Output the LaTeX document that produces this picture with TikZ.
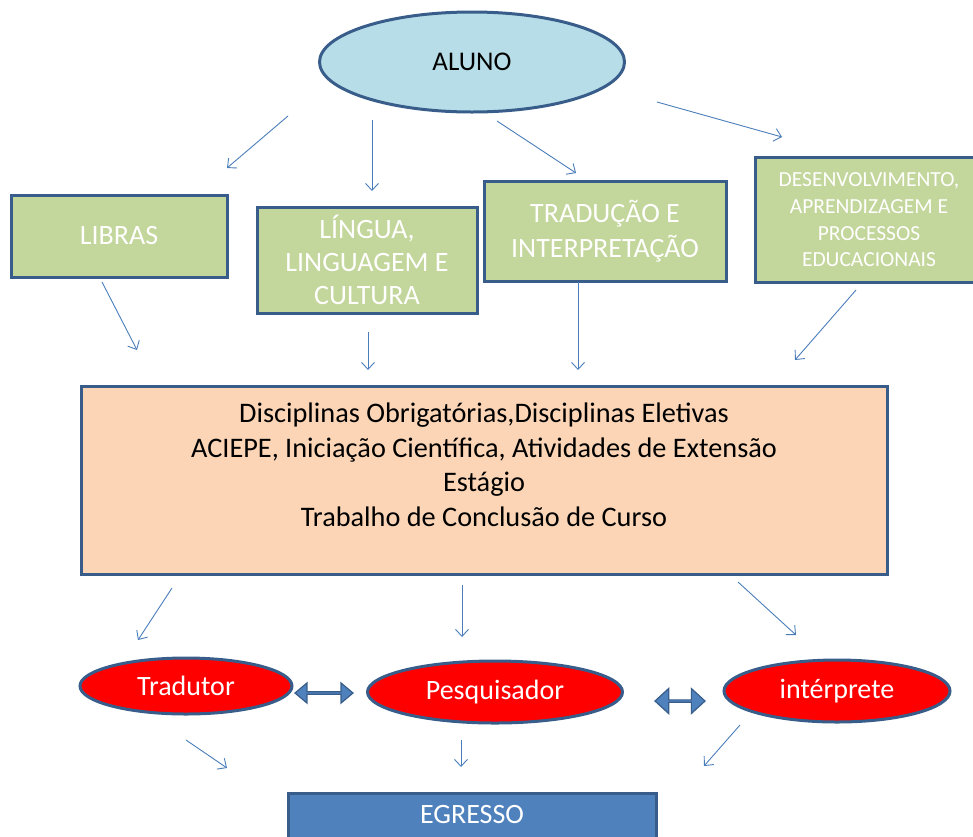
\documentclass[tikz,border=0pt]{standalone}
\usepackage{fontspec}
\setmainfont{Carlito}
\usetikzlibrary{shapes.geometric,shapes.arrows,arrows.meta}
\definecolor{bord}{RGB}{56,93,138}
\definecolor{alunofill}{RGB}{183,222,232}
\definecolor{greenfill}{RGB}{195,214,155}
\definecolor{peach}{RGB}{251,213,181}
\definecolor{egfill}{RGB}{79,129,189}
\definecolor{arrowc}{RGB}{74,126,187}
\begin{document}
\begin{tikzpicture}[x=1pt,y=-1pt,
  base/.style={draw=bord,line width=3pt,inner sep=0pt,align=center},
  gbox/.style={base,rectangle,fill=greenfill,text=white,font=\fontsize{28}{34}\selectfont},
  redell/.style={base,ellipse,fill=red,text=white,font=\fontsize{28}{34}\selectfont},
  conn/.style={draw=arrowc,line width=0.9pt,-{Straight Barb[length=7pt,width=13pt]}},
  dbl/.style={double arrow,draw=bord,line width=1.2pt,fill=egfill,inner sep=0pt,double arrow head indent=0pt},
]
\useasboundingbox (0,0) rectangle (973,836);
\clip (0,0) rectangle (973,836);
% top ellipse
\node (aluno) [base,ellipse,fill=alunofill,minimum width=305pt,minimum height=100pt,font=\fontsize{27}{32}\selectfont] at (472,62) {ALUNO};
% green boxes
\node (libras) [gbox,minimum width=216pt,minimum height=82pt] at (119,236) {LIBRAS};
\node (lingua) [gbox,minimum width=220pt,minimum height=106pt,font=\fontsize{28}{33}\selectfont] at (367,260) {LÍNGUA,\\LINGUAGEM E\\CULTURA};
\node (trad) [gbox,minimum width=242pt,minimum height=100pt,font=\fontsize{28}{35}\selectfont] at (605,231) {TRADUÇÃO E\\INTERPRETAÇÃO};
\node (desen) [gbox,minimum width=228pt,minimum height=125pt,font=\fontsize{21.5}{26.7}\selectfont] at (869,220) {DESENVOLVIMENTO,\\APRENDIZAGEM E\\PROCESSOS\\EDUCACIONAIS};
% big box
\node (big) [base,rectangle,fill=peach,minimum width=806pt,minimum height=188pt] at (484,480) {};
\node (bigtxt) [align=center,inner sep=0pt,font=\fontsize{28.3}{34.5}\selectfont] at (484,465)
  {Disciplinas Obrigatórias,Disciplinas Eletivas\\ACIEPE, Iniciação Científica, Atividades de Extensão\\Estágio\\Trabalho de Conclusão de Curso};
% red ellipses
\node (tradutor) [redell,minimum width=212pt,minimum height=56pt] at (186,686) {Tradutor};
\node (pesq) [redell,minimum width=255pt,minimum height=62pt] at (495,692) {Pesquisador};
\node (interp) [redell,minimum width=226pt,minimum height=62pt] at (837,691) {intérprete};
% double arrows
\node (da1) [dbl,minimum width=20pt,minimum height=58pt,double arrow head extend=4.5pt,double arrow tip angle=80] at (324,693) {};
\node (da2) [dbl,minimum width=25pt,minimum height=50pt,double arrow head extend=6pt,double arrow tip angle=85] at (680,701) {};
% egresso
\node (egresso) [base,rectangle,fill=egfill,minimum width=368pt,minimum height=60pt] at (472,823) {};
\node (egtxt) [inner sep=0pt,text=white,font=\fontsize{28}{34}\selectfont] at (472,814) {EGRESSO};
% connector end points
\coordinate (a1s) at (288,116); \coordinate (a1e) at (227,168);
\coordinate (a2s) at (372,120); \coordinate (a2e) at (372,191);
\coordinate (a3s) at (497,121); \coordinate (a3e) at (576,173);
\coordinate (a4s) at (657,102); \coordinate (a4e) at (782,137);
\coordinate (b1s) at (102,282); \coordinate (b1e) at (137,350);
\coordinate (b2s) at (368,332); \coordinate (b2e) at (368,370);
\coordinate (b3s) at (578,282); \coordinate (b3e) at (578,370);
\coordinate (b4s) at (856,290); \coordinate (b4e) at (795,360);
\coordinate (c1s) at (172,588); \coordinate (c1e) at (138,640);
\coordinate (c2s) at (462,585); \coordinate (c2e) at (462,637);
\coordinate (c3s) at (738,582); \coordinate (c3e) at (796,635);
\coordinate (d1s) at (186,740); \coordinate (d1e) at (227,768);
\coordinate (d2s) at (461,740); \coordinate (d2e) at (461,767);
\coordinate (d3s) at (740,725); \coordinate (d3e) at (704,766);
\foreach \p in {a1,a2,a3,a4,b1,b2,b3,b4,c1,c2,c3,d1,d2,d3}
  \draw[conn] (\p s) -- (\p e);
\end{tikzpicture}
\end{document}
